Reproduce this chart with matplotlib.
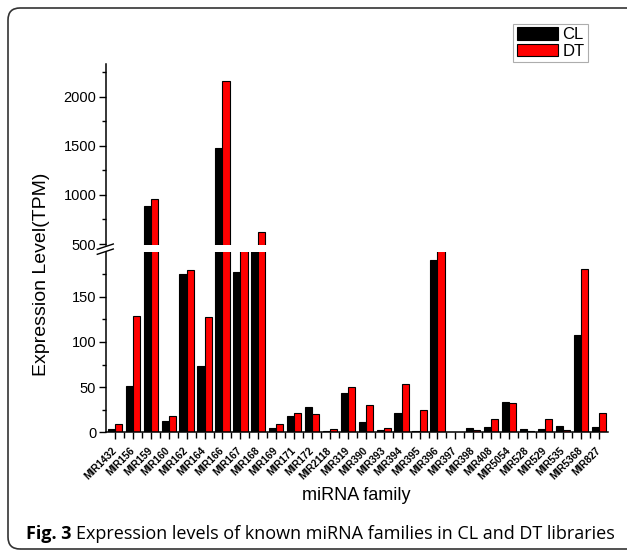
import numpy as np
import matplotlib
matplotlib.use("Agg")
import matplotlib.pyplot as plt
from matplotlib.patches import FancyBboxPatch
from matplotlib.lines import Line2D
from matplotlib.transforms import IdentityTransform

plt.rcParams['font.family'] = ['Liberation Sans', 'DejaVu Sans']

families = ['MIR1432', 'MIR156', 'MIR159', 'MIR160', 'MIR162', 'MIR164', 'MIR166',
            'MIR167', 'MIR168', 'MIR169', 'MIR171', 'MIR172', 'MIR2118', 'MIR319',
            'MIR390', 'MIR393', 'MIR394', 'MIR395', 'MIR396', 'MIR397', 'MIR398',
            'MIR408', 'MIR5054', 'MIR528', 'MIR529', 'MIR535', 'MIR5368', 'MIR827']
cl = [4, 51, 885, 12, 175.5, 73.5, 1480, 177, 400, 5, 17.6, 27.6, 1.4, 43.7,
      11.4, 2.2, 21.6, 1.4, 191, 0.8, 4.4, 6.2, 33, 3.3, 3.3, 7.3, 107.7, 5.8]
dt = [8.8, 129, 962, 18.3, 180, 127.6, 2166, 300, 625, 8.8, 21.6, 19.9, 4, 50.3,
      30, 4.7, 53.7, 24.3, 210, 0.6, 2.9, 14.3, 32.7, 1.9, 15, 2.9, 180.6, 21.3]

W, H = 627, 550
fig = plt.figure(figsize=(W / 100, H / 100), dpi=100)

left, right = 106 / W, 607.7 / W
ax_lo = fig.add_axes([left, 1 - 432.3 / H, right - left, (432.3 - 251.7) / H])
ax_hi = fig.add_axes([left, 1 - 245 / H, right - left, (245 - 64) / H])

x = np.arange(len(families))
bw = 0.4
for ax in (ax_lo, ax_hi):
    ax.bar(x - bw / 2, cl, bw, color='black', edgecolor='black', linewidth=0.8, label='CL')
    ax.bar(x + bw / 2, dt, bw, color='#ff0000', edgecolor='black', linewidth=0.8, label='DT')
    ax.set_xlim(-0.5, len(families) - 0.5)
    ax.spines['top'].set_visible(False)
    ax.spines['right'].set_visible(False)
    ax.spines['left'].set_linewidth(1.1)
    ax.spines['bottom'].set_linewidth(1.1)
    ax.tick_params(axis='y', which='major', length=5, width=1, labelsize=10.5, pad=2)
    ax.tick_params(axis='y', which='minor', length=3, width=1)

ax_lo.set_ylim(0, 199.8)
ax_lo.set_yticks([0, 50, 100, 150])
ax_lo.set_yticks([25, 75, 125, 175], minor=True)
ax_lo.set_xticks(x)
ax_lo.set_xticks(x[:-1] + 0.5, minor=True)
ax_lo.set_xticklabels(families, rotation=45, ha='right', va='center',
                      rotation_mode='anchor', fontsize=7.3, fontweight='bold')
ax_lo.tick_params(axis='x', which='major', length=5, width=1, pad=7)
ax_lo.tick_params(axis='x', which='minor', length=4, width=1)

ax_hi.set_ylim(490, 2335)
ax_hi.set_yticks([500, 1000, 1500, 2000])
ax_hi.set_yticks([750, 1250, 1750, 2250], minor=True)
ax_hi.spines['bottom'].set_visible(False)
ax_hi.set_xticks([])
ax_hi.set_xticks([], minor=True)

# break marks on the y axis
for y0 in (249.3, 254.3):
    fig.add_artist(Line2D([97.3, 113.3], [H - y0, H - y0 + 5.3], color='black',
                          linewidth=1, transform=IdentityTransform()))

leg = ax_hi.legend(loc='upper right', bbox_to_anchor=(588 / W, 1 - 24 / H),
                   bbox_transform=fig.transFigure, fontsize=12, frameon=True,
                   fancybox=False, edgecolor='#999999', handlelength=2.5,
                   handleheight=0.75, handletextpad=0.25, borderpad=0.2,
                   labelspacing=0.1, borderaxespad=0)
leg.get_frame().set_linewidth(0.8)

fig.text(42 / W, 1 - 274 / H, 'Expression Level(TPM)', rotation=90,
         ha='center', va='center', fontsize=14)
fig.text(356 / W, 1 - 496 / H, 'miRNA family', ha='center', va='center', fontsize=13)

# caption
cap1 = fig.text(26 / W, 1 - 534 / H, 'Fig. 3', fontsize=13, fontweight='bold',
                family='Open Sans', va='center', ha='left')
fig.canvas.draw()
bb = cap1.get_window_extent()
fig.text((bb.x1 + 4) / W, 1 - 534 / H,
         'Expression levels of known miRNA families in CL and DT libraries',
         fontsize=13, family='Open Sans', va='center', ha='left')

frame = FancyBboxPatch((8, 1), 700, H - 9, boxstyle='round,pad=0,rounding_size=12',
                       transform=IdentityTransform(), facecolor='none',
                       edgecolor='#333333', linewidth=1.2)
fig.add_artist(frame)

fig.savefig('out.png', dpi=100)
